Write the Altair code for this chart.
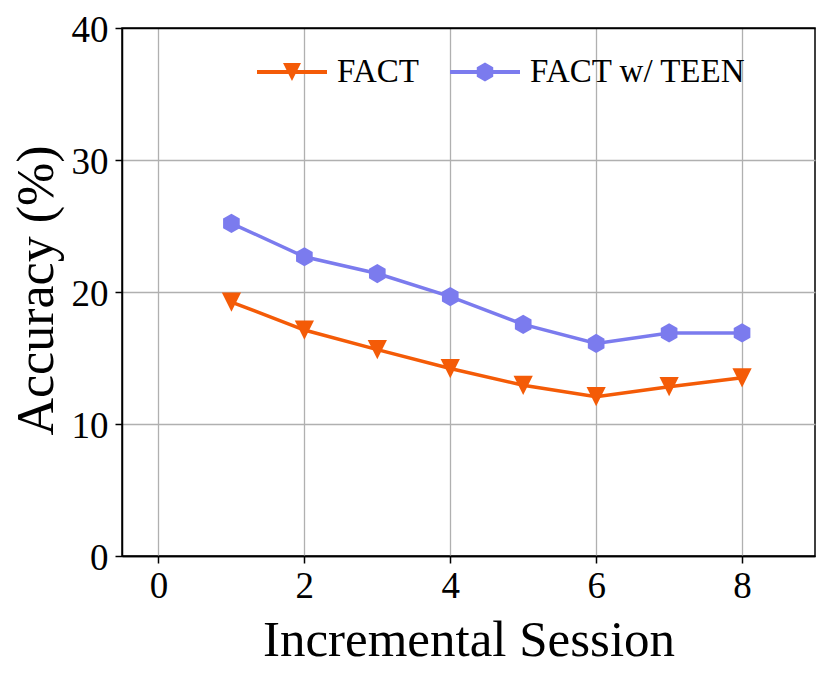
import altair as alt
import pandas as pd

sessions = [1, 2, 3, 4, 5, 6, 7, 8]
fact = [19.24, 17.12, 15.63, 14.2, 12.93, 12.07, 12.83, 13.5]
fact_teen = [25.2, 22.67, 21.4, 19.65, 17.55, 16.1, 16.9, 16.9]
series_names = ["FACT", "FACT w/ TEEN"]
colors = ["#F45B07", "#7B7BEE"]
x_ticks = [0, 2, 4, 6, 8]
y_ticks = [0, 10, 20, 30, 40]

rows = []
for s, a in zip(sessions, fact):
    rows.append({"session": s, "acc": a, "series": series_names[0]})
for s, b in zip(sessions, fact_teen):
    rows.append({"session": s, "acc": b, "series": series_names[1]})
df = pd.DataFrame(rows)

FONT = "Liberation Serif"
TRI = "M-1,-1L1,-1L0,1Z"
HEX = "M0,-1L0.866,-0.5L0.866,0.5L0,1L-0.866,0.5L-0.866,-0.5Z"
BAR = "M-1,-0.06L1,-0.06L1,0.06L-1,0.06Z"
LEG_TRI = BAR + " M-0.257,-0.257L0.257,-0.257L0,0.257Z"
LEG_HEX = BAR + " M0,-0.271L0.235,-0.136L0.235,0.136L0,0.271L-0.235,0.136L-0.235,-0.136Z"

grid_cond = alt.condition("datum.value == 0 || datum.value == 40", alt.value("black"), alt.value("#b0b0b0"))

x_enc = alt.X(
    "session:Q",
    scale=alt.Scale(domain=[-0.5, 9], nice=False, zero=False),
    axis=alt.Axis(
        values=x_ticks, title="Incremental Session", grid=True,
        gridColor="#b0b0b0", gridWidth=1.3,
        labelFont=FONT, labelFontSize=37, labelColor="black",
        labelBaseline="alphabetic", labelPadding=34,
        tickColor="black", tickSize=7, tickWidth=1.5,
        domainColor="black", domainWidth=1.5,
        titleFont=FONT, titleFontSize=51, titleFontWeight="normal", titleColor="black",
        titleX=346.5, titleY=99, titleBaseline="alphabetic", titleAlign="center",
        titleLimit=800,
    ),
)
y_enc = alt.Y(
    "acc:Q",
    scale=alt.Scale(domain=[0, 40], nice=False),
    axis=alt.Axis(
        values=y_ticks, title="Accuracy (%)", grid=True,
        gridColor=grid_cond, gridWidth=1.3,
        labelFont=FONT, labelFontSize=37, labelColor="black",
        labelPadding=7, labelOffset=2,
        tickColor="black", tickSize=7, tickWidth=1.5,
        domainColor="black", domainWidth=1.5,
        titleFont=FONT, titleFontSize=52, titleFontWeight="normal", titleColor="black",
        titleX=-70, titleY=262, titleBaseline="alphabetic", titleAlign="center", titleAngle=270,
        titleLimit=800,
    ),
)

color_scale = alt.Scale(domain=series_names, range=colors)
leg = dict(
    title=None, orient="none", legendX=135, legendY=9, direction="horizontal",
    symbolSize=4900, symbolStrokeWidth=0, symbolOpacity=1,
    labelFont=FONT, labelFontSize=33, labelColor="black", labelOffset=10,
    labelLimit=500, columnPadding=31, padding=0,
)

lines = alt.Chart(df).mark_line(strokeWidth=3.5).encode(
    x=x_enc, y=y_enc, color=alt.Color("series:N", scale=color_scale, legend=None)
)
points = alt.Chart(df).mark_point(filled=True, size=370, opacity=1).encode(
    x=x_enc, y=y_enc,
    color=alt.Color("series:N", scale=color_scale, legend=None),
    shape=alt.Shape("series:N", scale=alt.Scale(domain=series_names, range=[TRI, HEX]), legend=None),
)
legend_layer = alt.Chart(df).mark_point(filled=True, opacity=0).encode(
    x=x_enc, y=y_enc,
    color=alt.Color("series:N", scale=color_scale, legend=alt.Legend(**leg)),
    shape=alt.Shape("series:N", scale=alt.Scale(domain=series_names, range=[LEG_TRI, LEG_HEX]),
                    legend=alt.Legend(**leg)),
)

chart = alt.layer(lines, points, legend_layer).resolve_scale(
    color="independent", shape="independent"
).properties(
    width=693, height=528,
    autosize=alt.AutoSizeParams(type="none"),
    padding={"left": 114, "top": 20, "right": 7, "bottom": 118},
    background="white",
).configure_view(stroke="black", strokeWidth=1.5)

chart.save("out.html", embed_options={"renderer": "svg", "actions": False})
